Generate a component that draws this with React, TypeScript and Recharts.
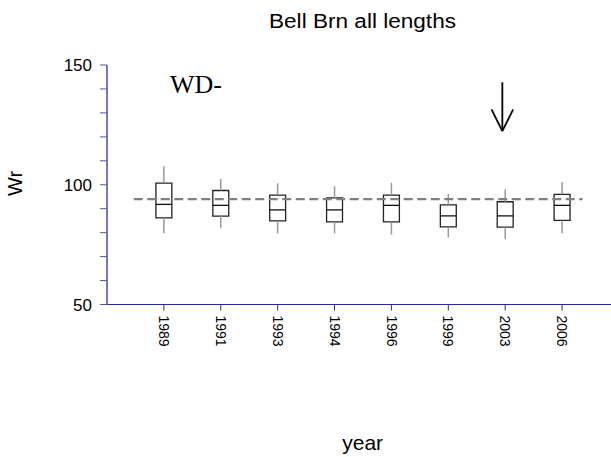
import { ComposedChart, XAxis, YAxis, ReferenceArea, ReferenceLine, Scatter } from "recharts"

// Wr box plots by sample year
const YEARS = ["1989", "1991", "1993", "1994", "1996", "1999", "2003", "2006"]
const WHISKER_HIGH = [107.7, 102.4, 100.6, 99.4, 100.8, 96.1, 98.0, 101.2]
const Q3 = [100.7, 97.6, 95.7, 94.5, 95.7, 91.6, 92.9, 96.0]
const MEDIAN = [91.8, 91.4, 89.5, 89.5, 91.4, 87.0, 87.0, 91.4]
const Q1 = [86.2, 86.9, 84.9, 84.5, 84.5, 82.4, 82.3, 85.1]
const WHISKER_LOW = [79.8, 82.0, 79.7, 79.7, 79.2, 78.0, 77.2, 79.7]

const MEAN_WR = 94
const Y_TICKS = [50, 60, 70, 80, 90, 100, 110, 120, 130, 140, 150]
const Y_LABELS = [50, 100, 150]

// arrow marking 2003
const ARROW_YEAR = "2003"
const ARROW_TOP = 142.8
const ARROW_TIP = 122.4
const ARROW_HEAD = 131.5

const AXIS = "#2a2a9c"
const FONT = "'Liberation Sans', Arial, sans-serif"
const BOX_HALF = 0.14

const rows = YEARS.map((year, i) => ({
  pos: i + 1,
  year,
  hi: WHISKER_HIGH[i],
  q3: Q3[i],
  med: MEDIAN[i],
  q1: Q1[i],
  lo: WHISKER_LOW[i],
}))

const arrowX = YEARS.indexOf(ARROW_YEAR) + 1 - 0.05

function XTick(props: any) {
  const { x, y, payload } = props
  const label = YEARS[payload.value - 1]
  return (
    <text
      x={x}
      y={y}
      dy="0.35em"
      textAnchor="start"
      transform={`rotate(90, ${x}, ${y})`}
      fontFamily={FONT}
      fontSize={14}
      fill="#000"
    >
      {label}
    </text>
  )
}

function YTick(props: any) {
  const { x, y, payload } = props
  if (!Y_LABELS.includes(payload.value)) return null
  return (
    <text x={x} y={y} dy="0.36em" textAnchor="end" fontFamily={FONT} fontSize={17} fill="#000">
      {payload.value}
    </text>
  )
}

function MedianMark(props: any) {
  const { cx, cy } = props
  return <line x1={cx - 8} x2={cx + 8} y1={cy} y2={cy} stroke="#111" strokeWidth={1.3} />
}

export default function App() {
  return (
    <div style={{ position: "absolute", left: 0, top: 0, background: "#fff" }}>
      <ComposedChart width={611} height={457} data={rows} margin={{ top: 65, right: 0, bottom: 0, left: 0 }}>
        <XAxis
          type="number"
          dataKey="pos"
          domain={[0, 8.86]}
          ticks={rows.map((r) => r.pos)}
          interval={0}
          height={152.5}
          tickSize={6}
          tickMargin={5}
          axisLine={{ stroke: AXIS, strokeWidth: 1.2 }}
          tickLine={{ stroke: AXIS }}
          tick={XTick}
        />
        <YAxis
          type="number"
          domain={[50, 150]}
          ticks={Y_TICKS}
          interval={0}
          width={107}
          tickSize={7}
          tickMargin={8}
          axisLine={{ stroke: "#5656b0", strokeWidth: 1.6 }}
          tickLine={{ stroke: "#5656b0" }}
          tick={YTick}
        />

        {rows.map((r) => (
          <ReferenceLine
            key={`wh-${r.year}`}
            segment={[{ x: r.pos, y: r.q3 }, { x: r.pos, y: r.hi }]}
            stroke="#9a9a9a"
            strokeWidth={1.5}
          />
        ))}
        {rows.map((r) => (
          <ReferenceLine
            key={`wl-${r.year}`}
            segment={[{ x: r.pos, y: r.lo }, { x: r.pos, y: r.q1 }]}
            stroke="#9a9a9a"
            strokeWidth={1.5}
          />
        ))}
        {rows.map((r) => (
          <ReferenceArea
            key={`box-${r.year}`}
            x1={r.pos - BOX_HALF}
            x2={r.pos + BOX_HALF}
            y1={r.q1}
            y2={r.q3}
            fill="none"
            fillOpacity={0}
            stroke="#222"
            strokeWidth={1.3}
          />
        ))}
        <Scatter dataKey="med" shape={MedianMark} isAnimationActive={false} />

        <ReferenceLine
          segment={[{ x: 0.47, y: MEAN_WR }, { x: 8.36, y: MEAN_WR }]}
          stroke="#808080"
          strokeWidth={2.2}
          strokeDasharray="9 4.5"
        />

        <ReferenceLine segment={[{ x: arrowX, y: ARROW_TOP }, { x: arrowX, y: ARROW_TIP }]} stroke="#000" strokeWidth={1.8} />
        <ReferenceLine segment={[{ x: arrowX - 0.19, y: ARROW_HEAD }, { x: arrowX, y: ARROW_TIP }]} stroke="#000" strokeWidth={1.8} />
        <ReferenceLine segment={[{ x: arrowX + 0.19, y: ARROW_HEAD }, { x: arrowX, y: ARROW_TIP }]} stroke="#000" strokeWidth={1.8} />

        <text
          x={362.5}
          y={28.3}
          textAnchor="middle"
          textLength={187}
          lengthAdjust="spacingAndGlyphs"
          fontFamily={FONT}
          fontSize={20}
          fill="#000"
        >
          Bell Brn all lengths
        </text>
        <text x={170} y={93} fontFamily="'Liberation Serif', 'Times New Roman', serif" fontSize={26} fill="#000">
          WD-
        </text>
        <text
          x={21.7}
          y={183.3}
          textAnchor="middle"
          transform="rotate(-90, 21.7, 183.3)"
          fontFamily={FONT}
          fontSize={20}
          fill="#000"
        >
          Wr
        </text>
        <text x={362.7} y={449.5} textAnchor="middle" fontFamily={FONT} fontSize={21} fill="#000">
          year
        </text>
      </ComposedChart>
    </div>
  )
}
